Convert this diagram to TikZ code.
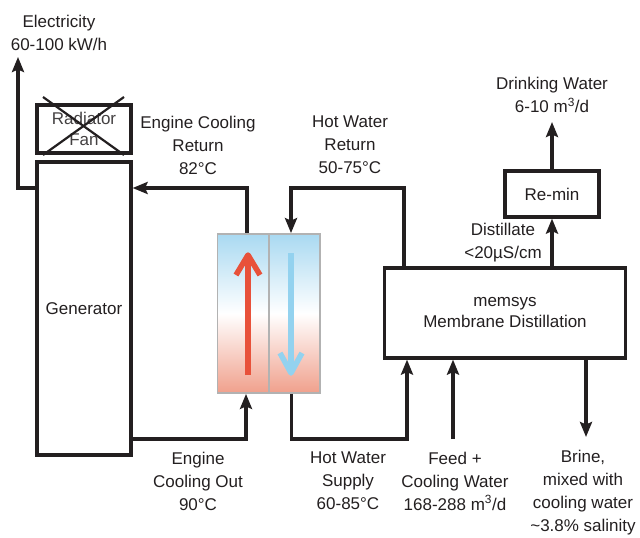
\documentclass[tikz,border=0pt]{standalone}
\usepackage{fontspec}
\setmainfont{Liberation Sans}
\usetikzlibrary{arrows.meta,calc}
\definecolor{ink}{HTML}{231F20}
\definecolor{hotred}{HTML}{E8513A}
\definecolor{coolblue}{HTML}{93D2EF}
\definecolor{topblue}{HTML}{A9D9F1}
\definecolor{botsalmon}{HTML}{F0A08C}
\begin{document}
\begin{tikzpicture}[x=1pt,y=-1pt,
  txt/.style={font=\fontsize{17}{23}\selectfont,text=ink,align=center,inner sep=0pt},
  box/.style={draw=ink,line width=3.2pt,fill=white,inner sep=0pt,font=\fontsize{17}{21}\selectfont,text=ink,align=center},
  conn/.style={draw=ink,line width=3.2pt},
  arr/.style={conn,-{Stealth[length=15pt,width=12pt,inset=2.5pt]}},
  hx/.style={draw=black!30,line width=1.8pt,top color=topblue,bottom color=botsalmon,middle color=white,minimum height=159pt,minimum width=51pt,inner sep=0pt},
  flow/.style={line width=5.5pt,line join=round}]
\useasboundingbox (0,0) rectangle (640,538);
% boxes
\node[box,minimum width=94pt,minimum height=48pt] (rad) at (84,129) {\textcolor{ink!85}{Radiator}\\\textcolor{ink!85}{Fan}};
\draw[ink,line width=2.2pt] (43,97) -- (124,155) (124,97) -- (43,155);
\node[box,minimum width=94pt,minimum height=293pt] (gen) at (84,308.5) {Generator};
\node[box,minimum width=241pt,minimum height=90pt] (md) at (505,313) {memsys\\Membrane Distillation};
\node[box,minimum width=94pt,minimum height=46pt] (remin) at (552,194) {Re-min};
% heat exchanger
\node[hx] (hxl) at (243,313.5) {};
\node[hx] (hxr) at (294.5,313.5) {};
\draw[flow,hotred] (248,375) -- (248,256);
\draw[flow,hotred] (236,275) -- (248,255) -- (260,275);
\draw[flow,coolblue] (291,253) -- (291,372);
\draw[flow,coolblue] (280,353) -- (291,373) -- (302,353);
% coordinates
\coordinate (eltop) at (18,57);
\coordinate (ret) at (247,188);
\coordinate (hwr) at (291,188);
\coordinate (out) at (246,439);
\coordinate (sup) at (407,439);
\coordinate (feed) at (453,439);
\coordinate (brine) at (586,437);
\coordinate (dw) at (552,122);
% connectors
\draw[arr] (gen.west |- ret) -| (eltop);
\draw[arr] (ret |- hxl.north) -- (ret) -- (gen.east |- ret);
\draw[arr] ($(md.north west)+(21,0)$) |- (hwr) -- (hwr |- hxr.north);
\draw[arr] (gen.east |- out) -- (out) -- (out |- hxl.south);
\draw[arr] ($(hxr.south)+(-3,0)$) |- (sup) -- (sup |- md.south);
\draw[arr] (feed) -- (feed |- md.south);
\draw[arr] (brine |- md.south) -- (brine);
\draw[arr] (remin.south |- md.north) -- (remin.south);
\draw[arr] (remin.north) -- (dw);
% labels
\node[txt] (lelec) at (59,33) {Electricity\\60-100 kW/h};
\node[txt] (lecr) at (198,145) {Engine Cooling\\Return\\82°C};
\node[txt] (lhwr) at (350,145) {Hot Water\\Return\\50-75°C};
\node[txt] (ldw) at (552,95) {Drinking Water\\6-10 m\textsuperscript{3}/d};
\node[txt] (ldist) at (503,243) {Distillate\\<20µS/cm};
\node[txt] (leco) at (198,481) {Engine\\Cooling Out\\90°C};
\node[txt] (lhws) at (348,481) {Hot Water\\Supply\\60-85°C};
\node[txt] (lfeed) at (455,481) {Feed +\\Cooling Water\\168-288 m\textsuperscript{3}/d};
\node[txt] (lbrine) at (583,492.5) {Brine,\\mixed with\\cooling water\\\textasciitilde3.8\% salinity};
\end{tikzpicture}
\end{document}
